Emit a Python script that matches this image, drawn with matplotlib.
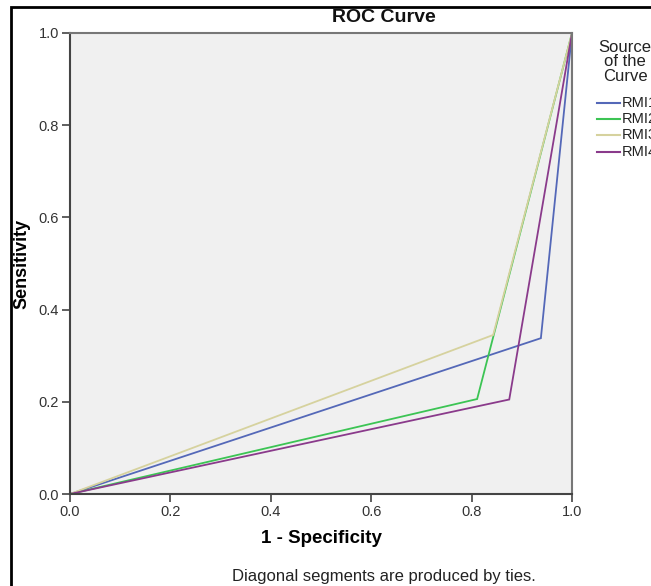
import matplotlib
matplotlib.use("Agg")
import matplotlib.pyplot as plt
from matplotlib.lines import Line2D

plt.rcParams['font.family'] = ['Liberation Sans', 'DejaVu Sans']

series_names = ["RMI1", "RMI2", "RMI3", "RMI4"]
fpr = {
    "RMI1": [0.0, 0.938, 1.0],
    "RMI2": [0.0, 0.811, 1.0],
    "RMI3": [0.0, 0.843, 1.0],
    "RMI4": [0.0, 0.875, 1.0],
}
tpr = {
    "RMI1": [0.0, 0.338, 1.0],
    "RMI2": [0.0, 0.206, 1.0],
    "RMI3": [0.0, 0.345, 1.0],
    "RMI4": [0.0, 0.205, 1.0],
}
colors = {"RMI1": "#5468b8", "RMI2": "#3cc454", "RMI3": "#d6d29e", "RMI4": "#8a3a8b"}
ticks = [0.0, 0.2, 0.4, 0.6, 0.8, 1.0]
tick_labels = ["0.0", "0.2", "0.4", "0.6", "0.8", "1.0"]

W, H = 651, 586
fig = plt.figure(figsize=(W / 100, H / 100), dpi=100)
fig.patch.set_facecolor("white")

ax = fig.add_axes([70 / W, 1 - 494 / H, (572 - 70) / W, (494 - 33) / H])
ax.set_facecolor("#f0f0f0")
for name in series_names:
    ax.plot(fpr[name], tpr[name], color=colors[name], lw=1.3, solid_joinstyle="miter")

ax.set_xlim(0, 1)
ax.set_ylim(0, 1)
ax.set_xticks(ticks)
ax.set_xticklabels(tick_labels)
ax.set_yticks(ticks)
ax.set_yticklabels(tick_labels)
ax.tick_params(direction="out", length=6, width=1.2, color="#444444",
               labelsize=10.5, labelcolor="#333333", pad=2)
for s in ["left", "bottom"]:
    ax.spines[s].set_color("#444444")
    ax.spines[s].set_linewidth(1.5)
for s in ["top", "right"]:
    ax.spines[s].set_color("#777777")
    ax.spines[s].set_linewidth(1.5)

ax.set_xlabel("1 - Specificity", fontsize=13.5, fontweight="bold", labelpad=8)
ax.set_ylabel("Sensitivity", fontsize=13, fontweight="bold", labelpad=6)

fig.text(384 / W, 1 - 17 / H, "ROC Curve", ha="center", va="center",
         fontsize=14, fontweight="bold", color="#111111")
fig.text(384 / W, 1 - 577 / H, "Diagonal segments are produced by ties.",
         ha="center", va="center", fontsize=12, color="#222222")

# legend
fig.text(625 / W, 1 - 62 / H, "Source\nof the\nCurve", ha="center", va="center",
         fontsize=12, color="#222222", linespacing=0.95, multialignment="center")
leg_y = [103, 119, 135, 152]
for name, yy in zip(series_names, leg_y):
    fig.add_artist(Line2D([597 / W, 620 / W], [1 - yy / H, 1 - yy / H],
                          color=colors[name], lw=1.5, transform=fig.transFigure))
    fig.text(622 / W, 1 - yy / H, name, ha="left", va="center", fontsize=10.5,
             color="#222222")

# outer frame (left and top)
fig.add_artist(Line2D([11 / W, 11 / W, 1.0], [0.0, 1 - 7 / H, 1 - 7 / H],
                      color="black", lw=2.0, transform=fig.transFigure,
                      solid_joinstyle="miter"))

fig.savefig("out.png", dpi=100)
